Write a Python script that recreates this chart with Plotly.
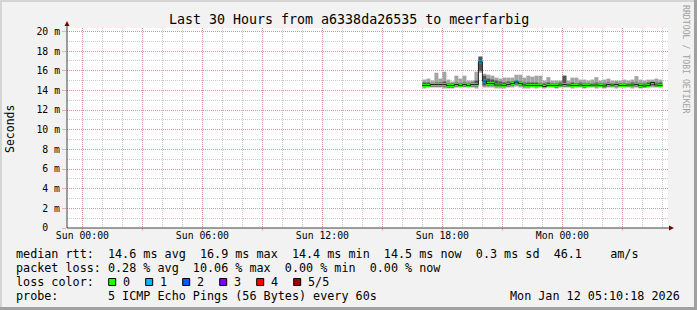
import plotly.graph_objects as go
import pandas as pd

# ---------------- data ----------------
start_time = "2026-01-11 17:00"          # first 12-minute consolidated sample
step_minutes = 12
# smoke: sorted pings per interval (ms)
ping_hi = [15.1, 15.2, 15.0, 15.8, 15.2, 15.9, 15.1, 14.9, 15.5, 15.2,
           15.5, 15.0, 15.0, 15.9, 17.5, 15.7, 15.6, 15.5, 15.3, 15.2,
           15.3, 15.3, 15.3, 15.6, 15.6, 15.3, 15.5, 15.4, 15.5, 15.5,
           15.0, 15.35, 15.0, 15.0, 15.0, 15.5, 15.0, 15.3, 15.3, 15.1,
           15.1, 15.0, 15.1, 15.35, 15.0, 15.1, 15.2, 15.0, 15.0, 15.0,
           15.1, 15.0, 15.1, 15.45, 15.1, 15.0, 15.1, 15.1, 15.2, 15.1]
ping_p4 = [14.8, 14.8, 14.7, 14.8, 14.8, 14.9, 14.7, 14.7, 14.8, 14.7,
           14.8, 14.7, 14.8, 15.0, 17.4, 15.5, 15.2, 15.1, 15.0, 14.9,
           14.8, 14.9, 14.9, 15.0, 14.9, 14.8, 14.8, 14.8, 14.8, 14.7,
           14.7, 14.8, 14.7, 14.7, 14.8, 15.5, 14.7, 14.8, 14.7, 14.8,
           14.7, 14.7, 14.7, 14.8, 14.7, 14.7, 14.8, 14.7, 14.8, 14.7,
           14.7, 14.7, 14.8, 14.8, 14.7, 14.7, 14.8, 14.9, 14.8, 14.8]
median = [14.5, 14.5, 14.6, 14.6, 14.6, 14.6, 14.5, 14.5, 14.6, 14.5,
          14.6, 14.5, 14.6, 14.6, 16.9, 14.95, 14.7, 14.7, 14.55, 14.55,
          14.5, 14.6, 14.7, 14.85, 14.7, 14.55, 14.5, 14.5, 14.5, 14.5,
          14.4, 14.5, 14.5, 14.5, 14.55, 14.6, 14.55, 14.5, 14.5, 14.55,
          14.5, 14.5, 14.55, 14.55, 14.5, 14.45, 14.6, 14.55, 14.6, 14.5,
          14.5, 14.55, 14.55, 14.6, 14.5, 14.45, 14.5, 14.8, 14.55, 14.5]
ping_p2 = [14.4, 14.4, 14.4, 14.4, 14.4, 14.4, 14.3, 14.3, 14.4, 14.4,
           14.4, 14.4, 14.4, 14.4, 16.0, 14.5, 14.5, 14.5, 14.4, 14.4,
           14.4, 14.4, 14.5, 14.6, 14.5, 14.4, 14.4, 14.4, 14.4, 14.4,
           14.3, 14.4, 14.4, 14.3, 14.4, 14.4, 14.4, 14.4, 14.4, 14.4,
           14.3, 14.4, 14.4, 14.4, 14.4, 14.3, 14.4, 14.4, 14.4, 14.4,
           14.4, 14.4, 14.4, 14.4, 14.3, 14.3, 14.4, 14.5, 14.4, 14.4]
ping_lo = [14.2, 14.3, 14.3, 14.3, 14.3, 14.2, 14.2, 14.2, 14.3, 14.3,
           14.3, 14.3, 14.3, 14.2, 15.8, 14.3, 14.3, 14.3, 14.2, 14.2,
           14.2, 14.3, 14.3, 14.4, 14.3, 14.2, 14.2, 14.3, 14.2, 14.3,
           14.2, 14.3, 14.3, 14.2, 14.3, 14.3, 14.3, 14.2, 14.3, 14.3,
           14.2, 14.3, 14.3, 14.2, 14.3, 14.2, 14.3, 14.3, 14.2, 14.3,
           14.3, 14.3, 14.2, 14.3, 14.2, 14.3, 14.3, 14.3, 14.3, 14.3]
loss_count = [0] * 14 + [1, 1] + [0] * 7 + [1] + [0] * 36

loss_labels = ["0", "1", "2", "3", "4", "5/5"]
loss_colors = ["#20ff00", "#00b8ff", "#0059ff", "#7e00ff", "#ff0000", "#a10000"]

y_tickvals = [0, 2, 4, 6, 8, 10, 12, 14, 16, 18, 20]
y_ticktext = ["0\u00a0\u00a0", "2 m", "4 m", "6 m", "8 m", "10 m", "12 m", "14 m", "16 m", "18 m", "20 m"]
x_tickvals = ["2026-01-11 00:00", "2026-01-11 03:00", "2026-01-11 06:00", "2026-01-11 09:00",
              "2026-01-11 12:00", "2026-01-11 15:00", "2026-01-11 18:00", "2026-01-11 21:00",
              "2026-01-12 00:00", "2026-01-12 03:00"]
x_ticktext = ["Sun 00:00", "", "Sun 06:00", "", "Sun 12:00", "", "Sun 18:00", "", "Mon 00:00", ""]

title_text = "Last 30 Hours from a6338da26535 to meerfarbig"
legend_lines = [
    "median rtt:  14.6 ms avg  16.9 ms max  14.4 ms min  14.5 ms now  0.3 ms sd  46.1    am/s",
    "packet loss: 0.28 % avg  10.06 % max  0.00 % min  0.00 % now",
    "loss color:",
    "probe:       5 ICMP Echo Pings (56 Bytes) every 60s",
]
stamp = "Mon Jan 12 05:10:18 2026"
watermark = "RRDTOOL / TOBI OETIKER"

# ---------------- geometry ----------------
W, H = 697, 310
L, R, T, B = 67, 29, 28, 82
PW, PH = W - L - R, H - T - B
MONO = "DejaVu Sans Mono"


def px(x):
    return (x - L) / PW


def py(y):
    return (H - B - y) / PH


def nb(s):
    return s.replace(" ", "\u00a0")


starts = pd.date_range(start_time, periods=len(median), freq=f"{step_minutes}min")
centers = starts + pd.Timedelta(minutes=step_minutes / 2)
bar_w = step_minutes * 60 * 1000
half = 0.15

fig = go.Figure()
fig.add_bar(x=centers, base=ping_lo, y=[h - l for h, l in zip(ping_hi, ping_lo)],
            width=bar_w, marker=dict(color="#a4a4a4", line=dict(width=0)), hoverinfo="skip")
fig.add_bar(x=centers, base=ping_p2, y=[h - l for h, l in zip(ping_p4, ping_p2)],
            width=bar_w, marker=dict(color="#555555", line=dict(width=0)), hoverinfo="skip")
step_x = list(starts) + [starts[-1] + pd.Timedelta(minutes=step_minutes)]
step_y = list(median) + [median[-1]]
fig.add_scatter(x=step_x, y=step_y, mode="lines", line=dict(color="#202020", width=1, shape="hv"),
                hoverinfo="skip")
fig.add_bar(x=centers, base=[m - half for m in median], y=[2 * half] * len(median),
            width=bar_w, marker=dict(color=[loss_colors[c] for c in loss_count], line=dict(width=0)),
            hoverinfo="skip")

major_grid = "rgba(240,60,60,0.38)"
minor_grid = "rgba(120,120,120,0.38)"

fig.update_layout(
    width=W, height=H, margin=dict(l=L, r=R, t=T, b=B),
    paper_bgcolor="#f2f2f2", plot_bgcolor="#ffffff",
    showlegend=False, barmode="overlay",
    font=dict(family=MONO, color="#000000"),
    xaxis=dict(
        type="date", range=["2026-01-10 23:13:48", "2026-01-12 05:16:48"],
        tickmode="array", tickvals=x_tickvals, ticktext=x_ticktext,
        tickfont=dict(family=MONO, size=9.8, color="#000000"),
        ticks="",
        showgrid=True, gridcolor=major_grid, griddash="1px,1px", gridwidth=1,
        minor=dict(tickvals=list(pd.date_range("2026-01-10 23:00", "2026-01-12 05:00", freq="1h")),
                   showgrid=True, gridcolor=minor_grid, griddash="1px,1px", ticks=""),
        showline=False, zeroline=False, fixedrange=True,
    ),
    yaxis=dict(
        range=[0, 20.35], tickmode="array", tickvals=y_tickvals, ticktext=y_ticktext,
        tickfont=dict(family=MONO, size=9.8, color="#000000"),
        ticks="outside", ticklen=4, tickcolor=major_grid,
        showgrid=True, gridcolor=major_grid, griddash="1px,1px", gridwidth=1,
        minor=dict(dtick=1, tick0=0, showgrid=True, gridcolor=minor_grid, griddash="1px,1px", ticks=""),
        showline=False, zeroline=False, fixedrange=True,
    ),
)

shapes = []
# frame borders
shapes.append(dict(type="rect", xref="paper", yref="paper", x0=px(0), x1=px(W), y0=py(0), y1=py(2),
                   fillcolor="#d4d4d4", line=dict(width=0), layer="below"))
shapes.append(dict(type="rect", xref="paper", yref="paper", x0=px(0), x1=px(2), y0=py(0), y1=py(H),
                   fillcolor="#d4d4d4", line=dict(width=0), layer="below"))
shapes.append(dict(type="rect", xref="paper", yref="paper", x0=px(W - 3), x1=px(W), y0=py(0), y1=py(H),
                   fillcolor="#a0a0a0", line=dict(width=0), layer="below"))
shapes.append(dict(type="rect", xref="paper", yref="paper", x0=px(0), x1=px(W), y0=py(H - 3), y1=py(H),
                   fillcolor="#a0a0a0", line=dict(width=0), layer="below"))
# small red tick marks below the x axis at the major grid positions
for tv in x_tickvals:
    shapes.append(dict(type="line", xref="x", yref="paper", x0=tv, x1=tv, y0=py(228), y1=py(231),
                       line=dict(color=major_grid, width=1)))
# axes with arrows
axis_col = "#404040"
shapes.append(dict(type="line", xref="paper", yref="paper", x0=px(67), x1=px(67), y0=py(228), y1=py(24),
                   line=dict(color=axis_col, width=1)))
shapes.append(dict(type="line", xref="paper", yref="paper", x0=px(67), x1=px(671), y0=py(228), y1=py(228),
                   line=dict(color=axis_col, width=1)))
arrow_col = "#7f0000"
shapes.append(dict(type="path", xref="paper", yref="paper",
                   path=f"M {px(64.5)},{py(26)} L {px(69.5)},{py(26)} L {px(67)},{py(21)} Z",
                   fillcolor=arrow_col, line=dict(width=0)))
shapes.append(dict(type="path", xref="paper", yref="paper",
                   path=f"M {px(669)},{py(225.5)} L {px(669)},{py(230.5)} L {px(674)},{py(228)} Z",
                   fillcolor=arrow_col, line=dict(width=0)))

# legend colour boxes
LEG = 11.75
TX = 14  # left x of legend text (annotation box adds ~2px padding)
ann = []
for k, (lab, col) in enumerate(zip(loss_labels, loss_colors)):
    bx = 108.7 + 37 * k
    shapes.append(dict(type="rect", xref="paper", yref="paper", x0=px(bx), x1=px(bx + 7),
                       y0=py(285.5), y1=py(278.5), fillcolor=col, line=dict(color="#000000", width=1)))
    ann.append(dict(text=nb(lab), x=px(bx + 12.5), y=py(282), xref="paper", yref="paper",
                    xanchor="left", yanchor="middle", showarrow=False,
                    font=dict(family=MONO, size=LEG, color="#000000")))

fig.update_layout(shapes=shapes)

ann.append(dict(text=nb(title_text), x=px(348.5), y=py(19), xref="paper", yref="paper",
                xanchor="center", yanchor="middle", showarrow=False,
                font=dict(family=MONO, size=13.3, color="#000000")))
ann.append(dict(text=nb(watermark), x=px(686), y=py(59), xref="paper", yref="paper",
                xanchor="center", yanchor="middle", showarrow=False, textangle=90,
                font=dict(family=MONO, size=8.2, color="#a0a0a0")))
ann.append(dict(text="Seconds", x=px(10), y=py(129), xref="paper", yref="paper",
                xanchor="center", yanchor="middle", showarrow=False, textangle=-90,
                font=dict(family=MONO, size=11.5, color="#000000")))
for i, line in enumerate(legend_lines):
    ann.append(dict(text=nb(line), x=px(TX), y=py(254 + 14 * i), xref="paper", yref="paper",
                    xanchor="left", yanchor="middle", showarrow=False,
                    font=dict(family=MONO, size=LEG, color="#000000")))
ann.append(dict(text=nb(stamp), x=px(682), y=py(296), xref="paper", yref="paper",
                xanchor="right", yanchor="middle", showarrow=False,
                font=dict(family=MONO, size=LEG, color="#000000")))
fig.update_layout(annotations=ann)

fig.write_html("out.html")
